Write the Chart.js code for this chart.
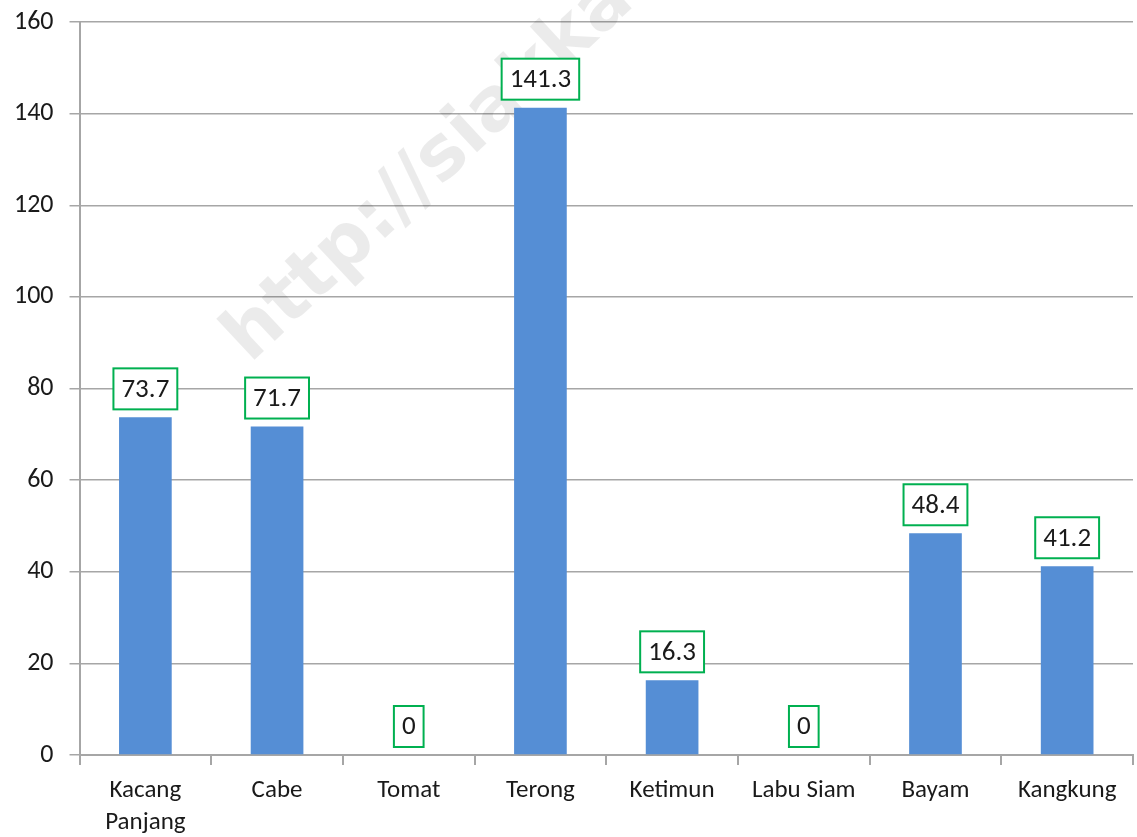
<!DOCTYPE html>
<html lang="id">
<head>
  <meta charset="UTF-8">
  <title>Produksi Sayuran</title>
  <script src="https://cdn.jsdelivr.net/npm/chart.js"></script>
  <style>
    body { margin: 0; background: #fff; }
    .wrap { width: 1137px; height: 837px; }
  </style>
</head>
<body>
<div class="wrap">
  <canvas id="myChart" width="1137" height="837"></canvas>
</div>

<script>
  // data
  const categories = [['Kacang', 'Panjang'], 'Cabe', 'Tomat', 'Terong', 'Ketimun', 'Labu Siam', 'Bayam', 'Kangkung'];
  const values = [73.7, 71.7, 0, 141.3, 16.3, 0, 48.4, 41.2];
  const yTicks = [0, 20, 40, 60, 80, 100, 120, 140, 160];

  const fontFamily = 'Carlito, "Open Sans", "Liberation Sans", sans-serif';

  // faint watermark behind the plot
  const watermark = {
    id: 'watermark',
    beforeDatasetsDraw(chart) {
      const c = chart.ctx;
      c.save();
      c.translate(250, 364);
      c.rotate(-43 * Math.PI / 180);
      c.font = 'bold 74px "DejaVu Sans", sans-serif';
      c.fillStyle = 'rgba(0,0,0,0.08)';
      c.textBaseline = 'alphabetic';
      c.fillText('http://siakkab.bps.go.id', 0, 0);
      c.restore();
    }
  };

  // boxed value labels above each bar
  const boxLabels = {
    id: 'boxLabels',
    afterDatasetsDraw(chart) {
      const c = chart.ctx;
      const meta = chart.getDatasetMeta(0);
      c.save();
      c.font = '27px ' + fontFamily;
      c.textAlign = 'center';
      c.textBaseline = 'middle';
      meta.data.forEach((bar, i) => {
        const txt = String(values[i]);
        const w = c.measureText(txt).width + 16;
        const h = 41;
        const x = bar.x - w / 2;
        const y = bar.y - 8 - h;
        c.fillStyle = '#fff';
        c.fillRect(x, y, w, h);
        c.strokeStyle = '#00B050';
        c.lineWidth = 2;
        c.strokeRect(x, y, w, h);
        c.fillStyle = '#1a1a1a';
        c.fillText(txt, bar.x, y + h / 2 + 1);
      });
      c.restore();
    }
  };

  const ctx = document.getElementById('myChart').getContext('2d');
  new Chart(ctx, {
    type: 'bar',
    data: {
      labels: categories,
      datasets: [{
        data: values,
        backgroundColor: '#558ED5',
        borderWidth: 0,
        barPercentage: 0.4,
        categoryPercentage: 1.0
      }]
    },
    options: {
      responsive: false,
      animation: false,
      layout: { padding: { left: -2, right: 4, top: 22, bottom: -12 } },
      plugins: {
        legend: { display: false },
        tooltip: { enabled: false }
      },
      scales: {
        x: {
          grid: {
            display: true,
            drawOnChartArea: false,
            drawTicks: true,
            offset: true,
            tickLength: 10,
            color: '#a6a6a6',
            lineWidth: 2
          },
          border: { color: '#a6a6a6', width: 2 },
          ticks: {
            color: '#1a1a1a',
            font: { family: fontFamily, size: 25, lineHeight: 1.28 },
            padding: 10,
            maxRotation: 0,
            autoSkip: false
          }
        },
        y: {
          min: 0,
          max: 160,
          afterBuildTicks(axis) {
            axis.ticks = yTicks.map(v => ({ value: v }));
          },
          afterFit(axis) {
            // let the layout padding decide where the top gridline sits
            axis.paddingTop = 0;
          },
          grid: {
            color: '#a6a6a6',
            lineWidth: 1.5,
            tickLength: 10
          },
          border: { color: '#a6a6a6', width: 2 },
          ticks: {
            color: '#1a1a1a',
            font: { family: fontFamily, size: 26, lineHeight: 1 },
            padding: 16
          }
        }
      }
    },
    plugins: [watermark, boxLabels]
  });
</script>
</body>
</html>
